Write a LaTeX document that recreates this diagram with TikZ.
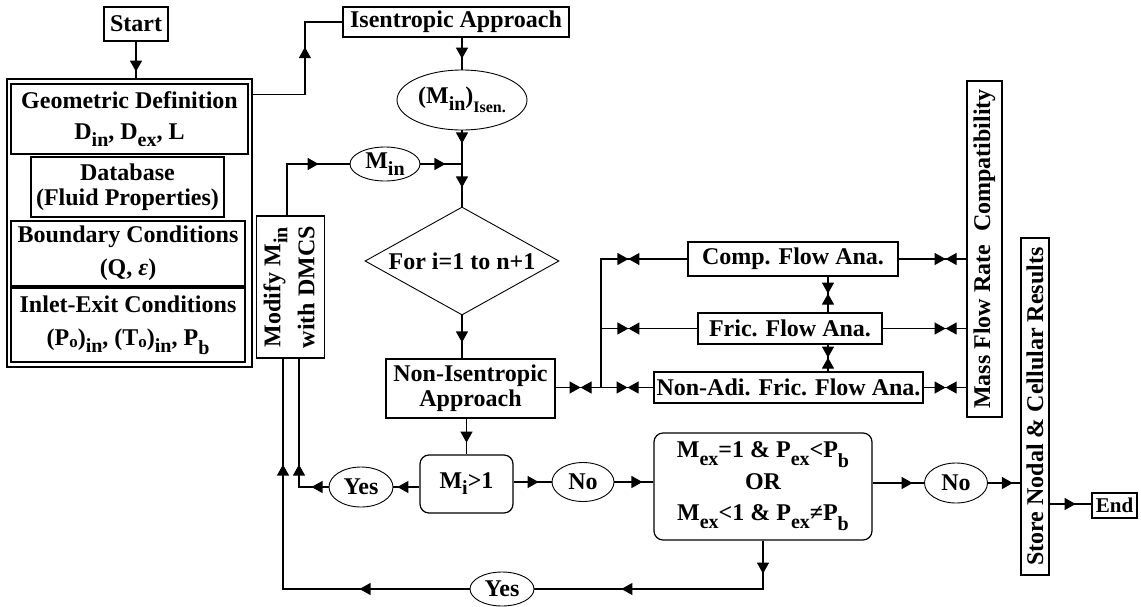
\documentclass[tikz,border=0pt]{standalone}
\usepackage{fontspec}
\setmainfont{Liberation Serif}
\usetikzlibrary{shapes.geometric,arrows.meta,decorations.markings,calc}
\newcommand\sbt[2][7pt]{\raisebox{-#1}{\fontsize{20}{20}\selectfont #2}}
\newcommand\rtext[2][31pt]{\rotatebox{90}{\fontsize{24}{#1}\selectfont\begin{tabular}{@{}c@{}}#2\end{tabular}}}
\begin{document}
\begin{tikzpicture}[x=1pt,y=-1pt,
  >={Triangle[length=11pt,width=12pt]},
  every node/.style={font=\fontsize{24}{31}\selectfont\bfseries, inner sep=0pt, align=center},
  box/.style={draw, line width=1.2pt, rectangle},
  oval/.style={draw, line width=0.9pt, ellipse},
  rbox/.style={draw, line width=1.2pt, rounded corners=9pt},
  conn/.style={line width=1.2pt},
  am/.style={postaction={decorate,decoration={markings,mark=at position #1 with {\arrow{>}}}}},
  bt/.style={postaction={decorate,decoration={markings,mark=at position #1 with {\arrow{>}\arrowreversed{>}}}}}
]
\useasboundingbox (0,0) rectangle (1141,606);

% left column
\node[box, minimum width=64pt, minimum height=34pt] (start) at (136,24) {Start};
\node[draw, line width=1.8pt, minimum width=245pt, minimum height=288pt] (outer) at (129.5,223) {};
\node[box, line width=1.5pt, minimum width=237pt, minimum height=70pt] (geo) at (129.5,119) {Geometric Definition\\D\sbt{in}, D\sbt{ex}, L};
\node[box, minimum width=193pt, minimum height=60pt, font=\fontsize{24}{25}\selectfont\bfseries] (db) at (127.5,187) {Database\\(Fluid Properties)};
\node[box, minimum width=234pt, minimum height=65pt, font=\fontsize{24}{33}\selectfont\bfseries] (bc) at (128,253.5) {Boundary Conditions\\(Q, \textit{ε})};
\node[box, minimum width=234pt, minimum height=74pt, font=\fontsize{24}{33}\selectfont\bfseries] (ie) at (128,325) {Inlet-Exit Conditions\\(P\sbt[2pt]{\fontsize{17}{17}\selectfont o})\sbt{in}, (T\sbt[2pt]{\fontsize{17}{17}\selectfont o})\sbt{in}, P\sbt[9pt]{b}};

% centre column
\node[box, minimum width=226pt, minimum height=30pt] (isen) at (456,22) {Isentropic Approach};
\node[oval, minimum width=130pt, minimum height=60pt] (isenM) at (462,100) {(M\sbt{in})\sbt[9pt]{\fontsize{16}{16}\selectfont Isen.}};
\node[oval, minimum width=70pt, minimum height=34pt] (min) at (385,164) {M\sbt{in}};
\coordinate (jn) at (462,164);
\node[draw, diamond, line width=0.9pt, aspect=1.8, minimum width=194pt, minimum height=108pt] (dia) at (462,261) {For i=1 to n+1};
\node[box, minimum width=169pt, minimum height=59pt, font=\fontsize{24}{25}\selectfont\bfseries] (nonisen) at (470.5,388.5) {Non-Isentropic\\Approach};
\node[box, minimum width=67pt, minimum height=142pt] (mod) at (290.5,287) {\rtext[34pt]{Modify M\sbt{in}\\with DMCS}};
\node[rbox, minimum width=93pt, minimum height=58pt] (mi) at (466.5,484) {M\sbt[6pt]{i}>1};
\node[oval, minimum width=64pt, minimum height=40pt] (yes1) at (361,487) {Yes};
\node[oval, minimum width=62pt, minimum height=39pt] (no1) at (583,482) {No};
\node[rbox, minimum width=218pt, minimum height=107pt, font=\fontsize{24}{31.5}\selectfont\bfseries] (cond) at (763,486.5) {M\sbt[8pt]{ex}=1 \& P\sbt[8pt]{ex}<P\sbt[10pt]{b}\\OR\\M\sbt[8pt]{ex}<1 \& P\sbt[8pt]{ex}≠P\sbt[10pt]{b}};
\node[oval, minimum width=64pt, minimum height=34pt] (yes2) at (502,589) {Yes};
\node[oval, minimum width=63pt, minimum height=40pt] (no2) at (956,483) {No};

% right part
\node[box, minimum width=210pt, minimum height=34pt] (comp) at (793,259) {Comp. Flow Ana.};
\node[box, minimum width=184pt, minimum height=31pt] (fric) at (790,328.5) {Fric. Flow Ana.};
\node[box, minimum width=269pt, minimum height=31pt] (nonadi) at (788.5,387.5) {Non-Adi. Fric. Flow Ana.};
\node[box, minimum width=35pt, minimum height=336pt] (mass) at (984.5,249) {\rotatebox{90}{Mass Flow Rate\hspace{0.55em}Compatibility}};
\node[box, minimum width=28pt, minimum height=337pt] (store) at (1035,406.5) {\rotatebox{90}{Store Nodal \& Cellular Results}};
\node[box, minimum width=45pt, minimum height=25pt, font=\fontsize{21}{25}\selectfont\bfseries] (end) at (1114.5,505.5) {End};
\coordinate (lj) at (601,387.5);
\coordinate (vx) at (828,0);

% connectors
\draw[conn, am=30pt] (start.south) -- (start.south |- outer.north);
\draw[conn, am=99pt] ($(outer.north east)+(0,16)$) -- ++(52,0) |- (isen.west);
\draw[conn, am=21pt] (isenM.north |- isen.south) -- (isenM.north);
\draw[conn, am=13pt, am=57pt] (isenM.south) -- (dia.north);
\draw[conn, am=83pt] ([xshift=-3.5pt]mod.north) |- (min.west);
\draw[conn, am=25pt] (min.east) -- (jn);
\draw[conn, am=27pt] (dia.south) -- (dia.south |- nonisen.north);
\draw[conn, am=24pt] (mi.north |- nonisen.south) -- (mi.north);
\draw[conn, am=22pt] (mi.west |- yes1) -- (yes1.east);
\draw[conn, am=17pt, am=52pt] (yes1.west) -| ([xshift=8.5pt]mod.south);
\draw[conn, am=25pt] (mi.east |- no1) -- (no1.west);
\draw[conn, am=28pt] (no1.east) -- (no1.east -| cond.west);
\draw[conn, am=40pt] (cond.east |- no2) -- (no2.west);
\draw[conn, am=25pt] (no2.east) -- (no2.east -| store.west);
\draw[conn, am=26pt] (store.east |- 0,504) -- (end.west |- 0,504);
\draw[conn, am=33pt, am=190pt] (cond.south) |- (yes2.east);
\draw[conn, am=110pt, am=311pt] (yes2.west) -| ([xshift=-7.5pt]mod.south);

\draw[conn, bt=25pt, bt=72pt] (nonisen.east |- lj) -- (nonadi.west);
\draw[conn, bt=59pt] (comp.west) -| (lj);
\draw[conn, bt=69pt] (fric.west) -- (fric.west -| lj);
\draw[conn, bt=47pt] (comp.east) -- (comp.east -| mass.west);
\draw[conn, bt=63pt] (fric.east) -- (fric.east -| mass.west);
\draw[conn, bt=22pt] (nonadi.east) -- (nonadi.east -| mass.west);
\draw[conn, bt=17pt] (comp.south -| vx) -- (fric.north -| vx);
\draw[conn, bt=13pt] (fric.south -| vx) -- (nonadi.north -| vx);
\end{tikzpicture}
\end{document}
